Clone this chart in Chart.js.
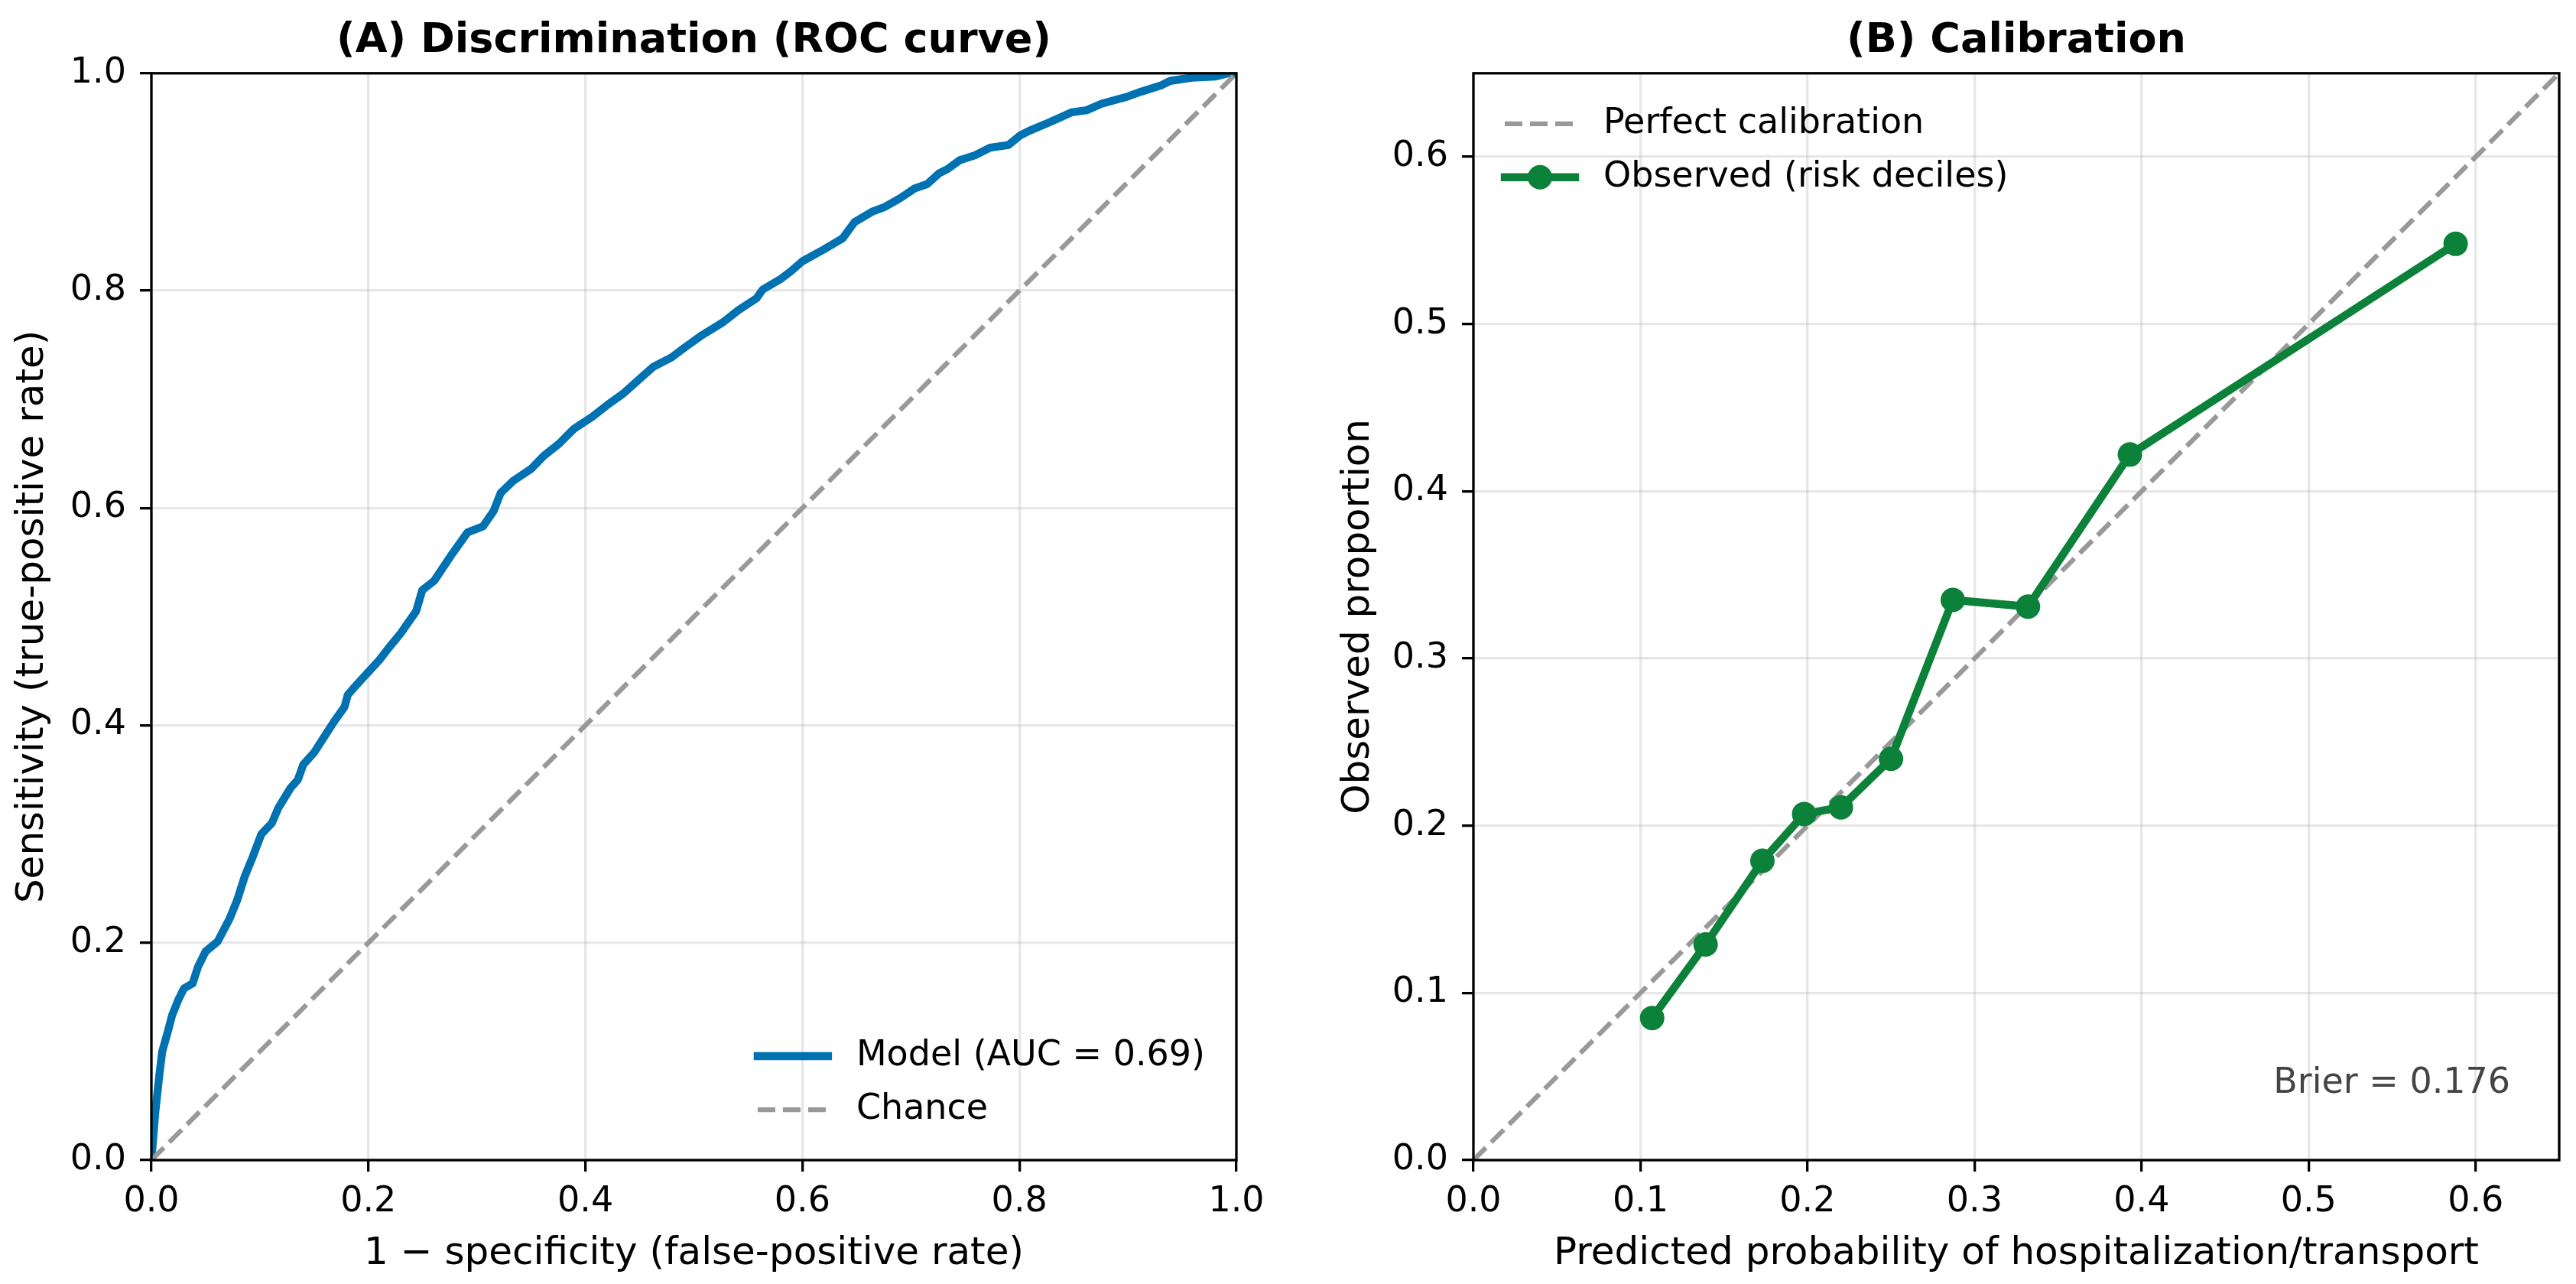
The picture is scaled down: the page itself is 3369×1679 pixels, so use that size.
<!DOCTYPE html>
<html>
<head>
<meta charset="utf-8">
<title>Discrimination and calibration</title>
<script src="https://cdn.jsdelivr.net/npm/chart.js@4.4.1/dist/chart.umd.min.js"></script>
<style>
  html, body { margin: 0; padding: 0; background: #fff; overflow: hidden; }
  #roc { position: absolute; left: 0; top: 0; }
  #cal { position: absolute; left: 1700px; top: 0; }
</style>
</head>
<body>
<canvas id="roc" width="1700" height="1679"></canvas>
<canvas id="cal" width="1669" height="1679"></canvas>
<script>
// (A) ROC curve
const rocFpr = [
  0, 0.0036, 0.0073, 0.010, 0.0148, 0.019, 0.0246, 0.030, 0.038, 0.043,
  0.050, 0.061, 0.072, 0.079, 0.086, 0.093, 0.1014, 0.111, 0.117, 0.128,
  0.135, 0.140, 0.150, 0.159, 0.168, 0.178, 0.181, 0.187, 0.198, 0.210,
  0.2185, 0.230, 0.244, 0.2497, 0.2606, 0.2774, 0.2914, 0.3055, 0.3153, 0.322,
  0.3335, 0.350, 0.3616, 0.3756, 0.3896, 0.4065, 0.4205, 0.4345, 0.4485, 0.4626,
  0.4794, 0.4906, 0.5074, 0.527, 0.541, 0.5578, 0.5634, 0.5804, 0.5897, 0.600,
  0.620, 0.637, 0.648, 0.665, 0.676, 0.690, 0.7035, 0.715, 0.726, 0.734,
  0.745, 0.759, 0.773, 0.790, 0.801, 0.809, 0.828, 0.848, 0.862, 0.876,
  0.898, 0.912, 0.931, 0.939, 0.959, 0.981, 0.993, 1.0
];
const rocTpr = [
  0, 0.044, 0.078, 0.100, 0.117, 0.133, 0.147, 0.158, 0.1625, 0.178,
  0.192, 0.201, 0.222, 0.239, 0.261, 0.278, 0.300, 0.310, 0.324, 0.342,
  0.350, 0.364, 0.375, 0.389, 0.403, 0.417, 0.428, 0.435, 0.447, 0.460,
  0.471, 0.485, 0.505, 0.5245, 0.533, 0.558, 0.5776, 0.583, 0.597, 0.614,
  0.625, 0.636, 0.648, 0.659, 0.673, 0.684, 0.695, 0.705, 0.7175, 0.730,
  0.7385, 0.747, 0.759, 0.771, 0.782, 0.793, 0.801, 0.811, 0.818, 0.827,
  0.838, 0.848, 0.863, 0.873, 0.877, 0.885, 0.894, 0.898, 0.908, 0.912,
  0.920, 0.9245, 0.9315, 0.934, 0.943, 0.947, 0.955, 0.964, 0.966, 0.972,
  0.978, 0.983, 0.989, 0.993, 0.996, 0.997, 1.0, 1.0
];
const chanceX = [0, 1];
const chanceY = [0, 1];
const rocTicks = [0, 0.2, 0.4, 0.6, 0.8, 1.0];

// (B) calibration by risk decile
const calPredicted = [0.107, 0.139, 0.173, 0.198, 0.220, 0.250, 0.287, 0.332, 0.393, 0.588];
const calObserved = [0.085, 0.129, 0.179, 0.207, 0.211, 0.240, 0.335, 0.331, 0.422, 0.548];
const perfectX = [0, 0.65];
const perfectY = [0, 0.65];
const calTicks = [0, 0.1, 0.2, 0.3, 0.4, 0.5, 0.6];

const aucLabel = "Model (AUC = 0.69)";
const brierLabel = "Brier = 0.176";

const FONT = "'DejaVu Sans', sans-serif";
Chart.defaults.font.family = FONT;
Chart.defaults.color = "#000";

const BLUE = "#0072B2";
const GREEN = "#0b8139";
const GREY = "#999999";

const toPoints = (xs, ys) => xs.map((x, i) => ({ x: x, y: ys[i] }));

// black box around the plot area, drawn over the lines like matplotlib spines
const frame = {
  id: "frame",
  afterDatasetsDraw(chart) {
    const { ctx, chartArea: a } = chart;
    ctx.save();
    ctx.strokeStyle = "#000";
    ctx.lineWidth = 3.3;
    ctx.strokeRect(a.left, a.top, a.right - a.left, a.bottom - a.top);
    ctx.restore();
  }
};

// frameless legend placed inside the plot area
const insetLegend = {
  id: "insetLegend",
  afterDraw(chart, args, opts) {
    if (!opts.items) return;
    const { ctx, chartArea: a } = chart;
    const sets = opts.items.map(i => chart.data.datasets[i]);
    ctx.save();
    ctx.font = "46px " + FONT;
    ctx.textBaseline = "middle";
    const textW = Math.max(...sets.map(ds => ctx.measureText(ds.label).width));
    const boxW = opts.handle + opts.gap + textW;
    const lowerRight = opts.corner === "lower right";
    const x0 = lowerRight ? a.right - opts.inset - boxW : a.left + opts.inset;
    const y0 = lowerRight
      ? a.bottom - opts.inset - opts.half - (sets.length - 1) * opts.row
      : a.top + opts.inset + opts.half;
    sets.forEach((ds, k) => {
      const y = y0 + k * opts.row;
      ctx.strokeStyle = ds.borderColor;
      ctx.lineWidth = ds.borderWidth;
      ctx.setLineDash(ds.borderDash || []);
      ctx.lineCap = ds.borderDash ? "butt" : "square";
      ctx.beginPath();
      ctx.moveTo(x0, y);
      ctx.lineTo(x0 + opts.handle, y);
      ctx.stroke();
      if (ds.pointRadius) {
        ctx.fillStyle = ds.pointBackgroundColor;
        ctx.beginPath();
        ctx.arc(x0 + opts.handle / 2, y, ds.pointRadius, 0, 2 * Math.PI);
        ctx.fill();
      }
      ctx.fillStyle = "#000";
      ctx.fillText(ds.label, x0 + opts.handle + opts.gap, y);
    });
    ctx.restore();
  }
};

// text placed in axes fractions (used for the Brier score)
const axesNote = {
  id: "axesNote",
  afterDatasetsDraw(chart, args, opts) {
    if (!opts.text) return;
    const { ctx, chartArea: a } = chart;
    ctx.save();
    ctx.font = "46px " + FONT;
    ctx.fillStyle = opts.color;
    ctx.textAlign = "right";
    ctx.textBaseline = "middle";
    ctx.fillText(opts.text, a.left + opts.fx * (a.right - a.left), a.bottom - opts.fy * (a.bottom - a.top));
    ctx.restore();
  }
};

function makeScales(ticks, max, xTitle, yTitle, yWidth, yTitlePad) {
  const grid = {
    color: "rgba(176,176,176,0.3)",
    lineWidth: 3.3,
    tickColor: "#000",
    tickWidth: 3.3,
    tickLength: 15
  };
  const tickOpts = {
    font: { size: 46 },
    autoSkip: false,
    maxRotation: 0,
    callback: v => v.toFixed(1)
  };
  const setTicks = s => { s.ticks = ticks.map(v => ({ value: v })); };
  return {
    x: {
      type: "linear", min: 0, max: max,
      afterBuildTicks: setTicks,
      afterFit: s => { s.height = 162; },
      grid: grid,
      border: { display: false },
      ticks: Object.assign({ padding: 12 }, tickOpts),
      title: { display: true, text: xTitle, font: { size: 50 }, padding: { top: 0, bottom: 9 } }
    },
    y: {
      type: "linear", min: 0, max: max,
      afterBuildTicks: setTicks,
      afterFit: s => { s.width = yWidth; },
      grid: grid,
      border: { display: false },
      ticks: Object.assign({ padding: 18 }, tickOpts),
      title: { display: true, text: yTitle, font: { size: 50 }, padding: { top: yTitlePad, bottom: 0 } }
    }
  };
}

function titleOpts(text) {
  return {
    display: true, text: text, fullSize: false, color: "#000",
    font: { size: 54, weight: "bold" },
    padding: { top: 22, bottom: 9 }
  };
}

new Chart(document.getElementById("roc"), {
  type: "line",
  data: {
    datasets: [
      {
        label: aucLabel, data: toPoints(rocFpr, rocTpr),
        borderColor: BLUE, borderWidth: 10.4, pointRadius: 0, tension: 0,
        borderJoinStyle: "round", borderCapStyle: "round", clip: 0, order: 2
      },
      {
        label: "Chance", data: toPoints(chanceX, chanceY),
        borderColor: GREY, borderWidth: 6.25, borderDash: [23, 10], pointRadius: 0, clip: 0, order: 1
      }
    ]
  },
  options: {
    responsive: false,
    animation: false,
    events: [],
    layout: { padding: { left: 0, top: 0, right: 83, bottom: 0 } },
    scales: makeScales(rocTicks, 1, "1 \u2212 specificity (false-positive rate)",
      "Sensitivity (true-positive rate)", 198, 13),
    plugins: {
      title: titleOpts("(A) Discrimination (ROC curve)"),
      legend: { display: false },
      tooltip: { enabled: false },
      insetLegend: { items: [0, 1], corner: "lower right", inset: 41, half: 25, row: 70, handle: 92, gap: 37 }
    }
  },
  plugins: [frame, insetLegend]
});

new Chart(document.getElementById("cal"), {
  type: "line",
  data: {
    datasets: [
      {
        label: "Perfect calibration", data: toPoints(perfectX, perfectY),
        borderColor: GREY, borderWidth: 6.25, borderDash: [23, 10], pointRadius: 0, clip: 0, order: 2
      },
      {
        label: "Observed (risk deciles)", data: toPoints(calPredicted, calObserved),
        borderColor: GREEN, borderWidth: 10.4, tension: 0, borderJoinStyle: "round",
        pointRadius: 16, pointBackgroundColor: GREEN, pointBorderColor: GREEN, pointBorderWidth: 0,
        clip: 0, order: 1
      }
    ]
  },
  options: {
    responsive: false,
    animation: false,
    events: [],
    layout: { padding: { left: 0, top: 0, right: 22, bottom: 0 } },
    scales: makeScales(calTicks, 0.65, "Predicted probability of hospitalization/transport",
      "Observed proportion", 227, 47),
    plugins: {
      title: titleOpts("(B) Calibration"),
      legend: { display: false },
      tooltip: { enabled: false },
      insetLegend: { items: [0, 1], corner: "upper left", inset: 41, half: 25, row: 70, handle: 92, gap: 37 },
      axesNote: { text: brierLabel, color: "#444444", fx: 0.955, fy: 0.07 }
    }
  },
  plugins: [frame, insetLegend, axesNote]
});
</script>
</body>
</html>
